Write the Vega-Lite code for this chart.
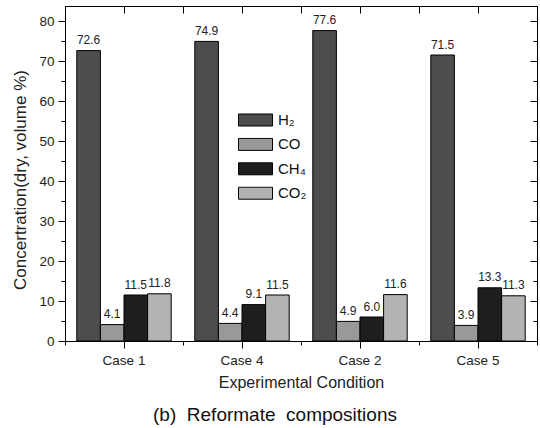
{
  "$schema": "https://vega.github.io/schema/vega-lite/v6.json",
  "width": 472,
  "height": 335,
  "autosize": {"type": "none"},
  "padding": {"left": 65, "top": 6, "right": 3, "bottom": 87},
  "title": {"text": "(b)\u00a0 Reformate\u00a0 compositions", "orient": "bottom", "anchor": "middle", "dx": -26, "offset": 15, "fontSize": 19, "font": "Liberation Sans", "fontWeight": "normal", "color": "#111"},
  "config": {"view": {"stroke": "black", "strokeWidth": 1}, "font": "Liberation Sans"},
  "data": {"values": [
    {"case": "Case 1", "gas": "H₂", "value": 72.6},
    {"case": "Case 1", "gas": "CO", "value": 4.1},
    {"case": "Case 1", "gas": "CH₄", "value": 11.5},
    {"case": "Case 1", "gas": "CO₂", "value": 11.8},
    {"case": "Case 4", "gas": "H₂", "value": 74.9},
    {"case": "Case 4", "gas": "CO", "value": 4.4},
    {"case": "Case 4", "gas": "CH₄", "value": 9.1},
    {"case": "Case 4", "gas": "CO₂", "value": 11.5},
    {"case": "Case 2", "gas": "H₂", "value": 77.6},
    {"case": "Case 2", "gas": "CO", "value": 4.9},
    {"case": "Case 2", "gas": "CH₄", "value": 6.0},
    {"case": "Case 2", "gas": "CO₂", "value": 11.6},
    {"case": "Case 5", "gas": "H₂", "value": 71.5},
    {"case": "Case 5", "gas": "CO", "value": 3.9},
    {"case": "Case 5", "gas": "CH₄", "value": 13.3},
    {"case": "Case 5", "gas": "CO₂", "value": 11.3}
  ]},
  "encoding": {
    "xOffset": {"field": "gas", "type": "nominal", "sort": ["H₂", "CO", "CH₄", "CO₂"], "scale": {"paddingInner": 0, "paddingOuter": 0.5}}
  },
  "layer": [
    {
      "mark": {"type": "bar", "stroke": "black", "strokeWidth": 1},
      "encoding": {
        "x": {"field": "case", "type": "nominal", "sort": ["Case 1", "Case 4", "Case 2", "Case 5"], "scale": {"paddingInner": 0, "paddingOuter": 0},
          "axis": {"title": "Experimental Condition", "titleFontSize": 16, "titleFontWeight": "normal", "titlePadding": 8, "labelFontSize": 13.5, "labelAngle": 0, "labelPadding": 5, "tickSize": 7, "tickColor": "black", "domainColor": "black", "labelColor": "#222", "titleColor": "#222", "grid": false}},
        "y": {"field": "value", "type": "quantitative", "scale": {"domain": [0, 83.75], "nice": false},
          "axis": {"title": "Concertration(dry, volume %)", "titleFontSize": 17, "titleFontWeight": "normal", "titlePadding": 9, "titleY": 173.5, "labelFontSize": 13.5, "labelPadding": 4, "labelColor": "#222", "titleColor": "#222", "grid": false, "domainColor": "black", "tickColor": "black",
            "values": [0, 5, 10, 15, 20, 25, 30, 35, 40, 45, 50, 55, 60, 65, 70, 75, 80],
            "labelExpr": "datum.value % 10 === 0 ? datum.label : ''",
            "tickSize": {"condition": {"test": "datum.value % 10 === 0", "value": 7}, "value": 4}}},
        "color": {"field": "gas", "type": "nominal", "sort": ["H₂", "CO", "CH₄", "CO₂"],
          "scale": {"domain": ["H₂", "CO", "CH₄", "CO₂"], "range": ["#4d4d4d", "#999999", "#1e1e1e", "#b3b3b3"]},
          "legend": {"orient": "none", "legendX": 173, "legendY": 107, "title": null, "symbolType": "M-1,-0.353H1V0.353H-1Z", "symbolSize": 1156, "symbolStrokeColor": "black", "symbolStrokeWidth": 1, "symbolOpacity": 1, "labelFontSize": 15, "labelColor": "#111", "labelOffset": 5, "clipHeight": 14, "rowPadding": 9.4, "padding": 0}}
      }
    },
    {
      "mark": {"type": "text", "dy": -3.5, "baseline": "bottom", "fontSize": 12, "color": "#222"},
      "encoding": {
        "x": {"field": "case", "type": "nominal", "sort": ["Case 1", "Case 4", "Case 2", "Case 5"],
          "axis": {"orient": "top", "labels": false, "title": null, "tickSize": -7, "tickColor": "black", "domainColor": "black", "grid": false}},
        "y": {"field": "value", "type": "quantitative",
          "axis": {"orient": "right", "labels": false, "title": null, "grid": false, "domainColor": "black", "tickColor": "black",
            "values": [0, 5, 10, 15, 20, 25, 30, 35, 40, 45, 50, 55, 60, 65, 70, 75, 80],
            "tickSize": {"condition": {"test": "datum.value % 10 === 0", "value": -7}, "value": -4}}},
        "text": {"field": "value", "type": "quantitative", "format": ".1f"}
      }
    },
    {
      "mark": {"type": "text", "text": "", "opacity": 0},
      "encoding": {
        "x": {"field": "case", "type": "nominal", "sort": ["Case 1", "Case 4", "Case 2", "Case 5"],
          "axis": {"orient": "bottom", "labels": false, "title": null, "tickBand": "extent", "tickSize": 4, "tickColor": "black", "domain": false, "grid": false}},
        "y": {"field": "value", "type": "quantitative", "axis": null}
      }
    },
    {
      "mark": {"type": "text", "text": "", "opacity": 0},
      "encoding": {
        "x": {"field": "case", "type": "nominal", "sort": ["Case 1", "Case 4", "Case 2", "Case 5"],
          "axis": {"orient": "top", "labels": false, "title": null, "tickBand": "extent", "tickSize": -7, "tickColor": "black", "domain": false, "grid": false}},
        "y": {"field": "value", "type": "quantitative", "axis": null}
      }
    }
  ],
  "resolve": {"axis": {"x": "independent", "y": "independent"}}
}
